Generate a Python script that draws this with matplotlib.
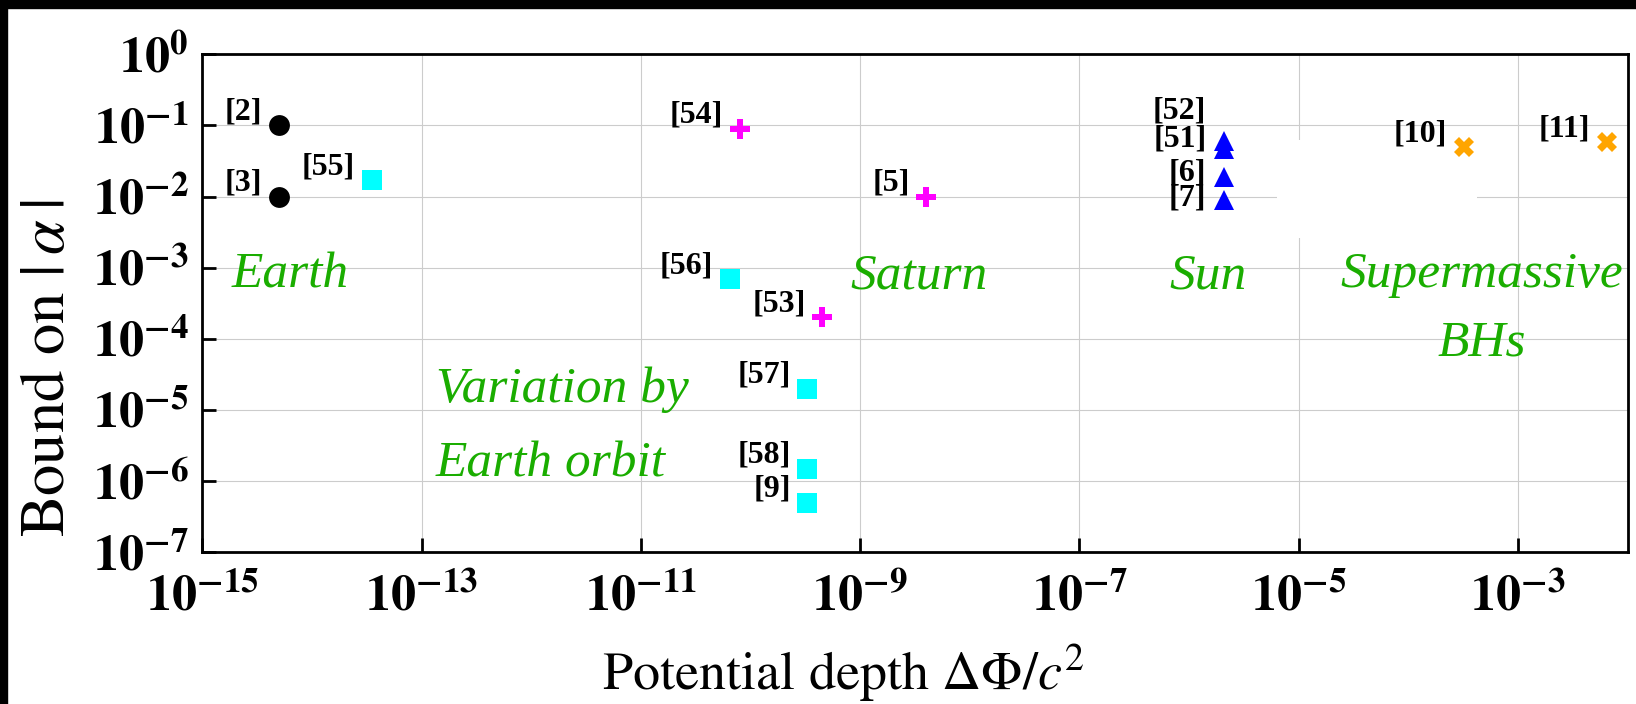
import matplotlib.pyplot as plt
from matplotlib.patches import Rectangle
from matplotlib.ticker import FixedLocator, FuncFormatter, NullLocator
import numpy as np

plt.rcParams['mathtext.fontset'] = 'stix'
plt.rcParams['font.family'] = ['STIXGeneral', 'DejaVu Serif']

# Earth-based clocks
earth_refs = ['[2]', '[3]']
earth_x = [5e-15, 5e-15]
earth_y = [1e-1, 1e-2]

# clock comparisons using Earth's orbit
orbit_refs = ['[55]', '[56]', '[57]', '[58]', '[9]']
orbit_x = [3.5e-14, 6.5e-11, 3.3e-10, 3.3e-10, 3.3e-10]
orbit_y = [1.7e-2, 7e-4, 2e-5, 1.5e-6, 5e-7]

# Saturn flybys
saturn_refs = ['[54]', '[5]', '[53]']
saturn_x = [8e-11, 4e-9, 4.5e-10]
saturn_y = [9e-2, 1e-2, 2e-4]

# solar redshift
sun_refs = ['[52]', '[51]', '[6]', '[7]']
sun_x = [2.1e-6, 2.1e-6, 2.1e-6, 2.1e-6]
sun_y = [6e-2, 4.7e-2, 1.9e-2, 9e-3]

# supermassive black holes
bh_refs = ['[10]', '[11]']
bh_x = [3.2e-4, 6.5e-3]
bh_y = [5e-2, 5.8e-2]

groups = [
    (earth_refs, earth_x, earth_y, 'o', 'black'),
    (orbit_refs, orbit_x, orbit_y, 's', 'cyan'),
    (saturn_refs, saturn_x, saturn_y, 'P', 'magenta'),
    (sun_refs, sun_x, sun_y, '^', 'blue'),
    (bh_refs, bh_x, bh_y, 'X', 'orange'),
]

# label offsets in points; the solar labels are stacked by hand
default_offset = (-12, 9.5)
label_offset = {'[52]': (-13, 22), '[51]': (-13, 7),
                '[6]': (-13, 3), '[7]': (-13, 1)}

fig = plt.figure(figsize=(16.36, 7.04), dpi=100)
ax = fig.add_axes([0.1237, 0.2155, 0.8712, 0.7074])

for refs, xs, ys, marker, color in groups:
    ax.plot(xs, ys, linestyle='none', marker=marker, markersize=15,
            color=color, markeredgewidth=0, zorder=3)
    for r, x, y in zip(refs, xs, ys):
        ax.annotate(r, (x, y), xytext=label_offset.get(r, default_offset),
                    textcoords='offset points', ha='right', va='center',
                    fontsize=23, fontweight='bold',
                    family='Liberation Serif', zorder=4)

ax.set_xscale('log')
ax.set_yscale('log')
ax.set_xlim(1e-15, 1e-2)
ax.set_ylim(1e-7, 1e0)

ax.xaxis.set_major_locator(FixedLocator([10.0 ** k for k in range(-15, -2, 2)]))
ax.yaxis.set_major_locator(FixedLocator([10.0 ** k for k in range(-7, 1)]))
ax.xaxis.set_minor_locator(NullLocator())
ax.yaxis.set_minor_locator(NullLocator())
fmt = FuncFormatter(lambda v, pos: r'$\mathbf{10^{%d}}$' % round(np.log10(v)))
ax.xaxis.set_major_formatter(fmt)
ax.yaxis.set_major_formatter(fmt)

ax.tick_params(which='major', direction='in', length=10, width=2,
               labelsize=36)
ax.tick_params(axis='x', pad=16)
ax.tick_params(axis='y', pad=10)
for sp in ax.spines.values():
    sp.set_linewidth(2)
ax.grid(True, color='#cccccc', linewidth=0.8, zorder=0)
ax.set_axisbelow(True)

# blank box over the grid near the black hole points
ax.add_patch(Rectangle((0.754, 0.631), 0.14, 0.197, transform=ax.transAxes,
                       facecolor='white', edgecolor='none', zorder=1))

green = '#1aad00'
tkw = dict(color=green, fontsize=37, style='italic', family='Liberation Serif',
           ha='center', va='center')
ax.text(10 ** -14.2, 10 ** -3.1, 'Earth', **tkw)
ax.text(10 ** -8.46, 10 ** -3.12, 'Saturn', **tkw)
ax.text(10 ** -5.83, 10 ** -3.12, 'Sun', **tkw)
ax.text(10 ** -3.33, 10 ** -3.58, 'Supermassive\nBHs', linespacing=1.6, **tkw)
ax.text(10 ** -11.72, 10 ** -5.24, 'Variation by\nEarth orbit',
        linespacing=1.8, multialignment='left', **tkw)

ax.set_xlabel(r'Potential depth $\Delta\Phi/c^2$', fontsize=39)
ax.set_ylabel(r'Bound on $|\:\alpha\:|$', fontsize=45)
ax.xaxis.set_label_coords(0.45, -0.181)
ax.yaxis.set_label_coords(-0.087, 0.37)

# dark edge along the top and left
fig.patches.append(Rectangle((0, 1 - 8 / 704), 1, 8 / 704,
                             transform=fig.transFigure, color='black'))
fig.patches.append(Rectangle((0, 0), 7 / 1636, 1,
                             transform=fig.transFigure, color='black'))

fig.savefig('out.png', dpi=100)
